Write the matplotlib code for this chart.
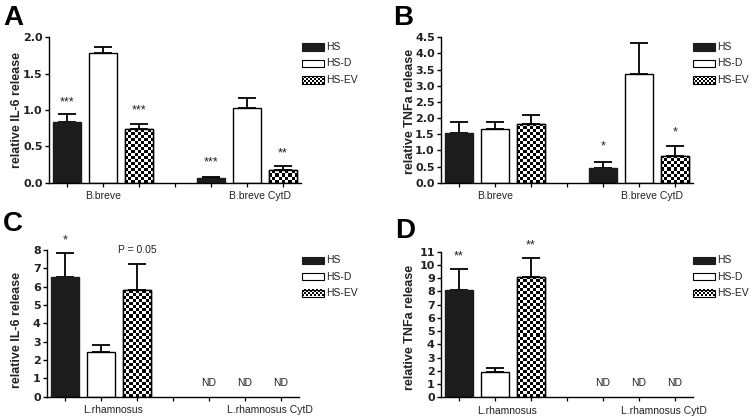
import numpy as np
import matplotlib
matplotlib.use("Agg")
import matplotlib.pyplot as plt
from matplotlib.patches import Rectangle

plt.rcParams['font.family'] = ['Liberation Sans', 'DejaVu Sans']

W, H = 755, 416

# ---------------- data ----------------
series = ['HS', 'HS-D', 'HS-EV']
groups_breve = ['B.breve', 'B.breve CytD']
groups_rham = ['L.rhamnosus', 'L.rhamnosus CytD']

# Panel A: relative IL-6 release (B.breve)
a_hs = [0.835, 0.06]
a_hs_err = [0.105, 0.023]
a_hsd = [1.79, 1.03]
a_hsd_err = [0.08, 0.13]
a_hsev = [0.734, 0.17]
a_hsev_err = [0.076, 0.064]

# Panel B: relative TNFa release (B.breve)
b_hs = [1.55, 0.44]
b_hs_err = [0.33, 0.21]
b_hsd = [1.65, 3.35]
b_hsd_err = [0.22, 0.96]
b_hsev = [1.83, 0.84]
b_hsev_err = [0.26, 0.30]

# Panel C: relative IL-6 release (L.rhamnosus); CytD not detected
c_hs = [6.51, np.nan]
c_hs_err = [1.34, np.nan]
c_hsd = [2.42, np.nan]
c_hsd_err = [0.42, np.nan]
c_hsev = [5.80, np.nan]
c_hsev_err = [1.44, np.nan]

# Panel D: relative TNFa release (L.rhamnosus); CytD not detected
d_hs = [8.14, np.nan]
d_hs_err = [1.53, np.nan]
d_hsd = [1.91, np.nan]
d_hsd_err = [0.28, np.nan]
d_hsev = [9.09, np.nan]
d_hsev_err = [1.41, np.nan]

# annotations: (text, group index, series index, y value)
a_notes = [('***', 0, 0, 1.16), ('***', 0, 2, 1.05), ('***', 1, 0, 0.34), ('**', 1, 2, 0.46)]
b_notes = [('*', 1, 0, 1.27), ('*', 1, 2, 1.68)]
c_notes = [('*', 0, 0, 8.78)]
c_texts = [('P = 0.05', 0, 2, 8.04), ('ND', 1, 0, 0.78), ('ND', 1, 1, 0.78), ('ND', 1, 2, 0.78)]
d_notes = [('**', 0, 0, 11.0), ('**', 0, 2, 11.8)]
d_texts = [('ND', 1, 0, 1.13), ('ND', 1, 1, 1.13), ('ND', 1, 2, 1.13)]

# ---------------- figure ----------------
fig = plt.figure(figsize=(W / 100, H / 100), dpi=100)

def px_axes(left, right, top, bottom):
    return fig.add_axes([left / W, 1 - bottom / H, (right - left) / W, (bottom - top) / H])

BW = 0.78
CELL = 3.0

def checker(nr, nc):
    i, j = np.indices((nr, nc))
    return ((i + j) % 2).astype(float)

def add_checker(ax, rect):
    x0, y0 = rect.get_x(), rect.get_y()
    w, h = rect.get_width(), rect.get_height()
    p0 = ax.transData.transform((x0, y0))
    p1 = ax.transData.transform((x0 + w, y0 + h))
    nc = max(1, int(round(abs(p1[0] - p0[0]) / CELL)))
    nr = max(1, int(round(abs(p1[1] - p0[1]) / CELL)))
    im = ax.imshow(checker(nr, nc), cmap='gray', vmin=0, vmax=1, origin='lower',
                   extent=[x0, x0 + w, y0, y0 + h], interpolation='nearest',
                   aspect='auto', zorder=2.2)
    im.set_clip_path(rect)

def panel(ax, groups, hs, hs_e, hsd, hsd_e, hsev, hsev_e, ymax, ystep, ylabel,
          ylab_px, notes, texts=()):
    ax.set_xlim(0.5, 7.5)
    ax.set_ylim(0, ymax)
    pos = [np.array([1, 5]), np.array([2, 6]), np.array([3, 7])]
    vals = [hs, hsd, hsev]
    errs = [hs_e, hsd_e, hsev_e]
    styles = [dict(color='#1c1c1c', edgecolor='#1c1c1c'),
              dict(color='white', edgecolor='black'),
              dict(color='white', edgecolor='black')]
    for k in range(3):
        v = np.array(vals[k], dtype=float)
        e = np.array(errs[k], dtype=float)
        ok = ~np.isnan(v)
        bars = ax.bar(pos[k][ok], v[ok], width=BW, linewidth=1.0, zorder=2, **styles[k])
        if k == 2:
            for r in bars:
                add_checker(ax, r)
            ax.bar(pos[k][ok], v[ok], width=BW, fill=False, edgecolor='black',
                   linewidth=1.0, zorder=2.5)
        ax.errorbar(pos[k][ok], v[ok], yerr=[np.zeros(ok.sum()), e[ok]], fmt='none',
                    ecolor='black', elinewidth=1.3, capsize=6.5, capthick=1.3, zorder=1.5)
    ax.set_ylim(0, ymax)
    ax.set_xlim(0.5, 7.5)
    for s in ('top', 'right'):
        ax.spines[s].set_visible(False)
    for s in ('left', 'bottom'):
        ax.spines[s].set_linewidth(1.0)
    ticks = np.arange(0, ymax + 1e-9, ystep)
    ax.set_yticks(ticks)
    if ystep < 1:
        ax.set_yticklabels(['%.1f' % t for t in ticks])
    else:
        ax.set_yticklabels(['%d' % t for t in ticks])
    for lab in ax.get_yticklabels():
        lab.set_fontweight('bold')
        lab.set_fontsize(8)
        lab.set_family('DejaVu Sans')
        lab.set_color('#222222')
    ax.tick_params(axis='y', length=3, width=1.0, pad=1.5)
    ax.set_xticks([1, 2, 3, 4, 5, 6, 7])
    ax.set_xticklabels([])
    ax.tick_params(axis='x', length=3, width=0.9)
    for gi, g in enumerate(groups):
        ax.annotate(g, (1.5 + 4 * gi, 0), xycoords=('data', 'axes fraction'),
                    xytext=(0, -6), textcoords='offset points', ha='left', va='top',
                    fontsize=7.5, color='#222222')
    for txt, gi, si, y in notes:
        ax.annotate(txt, (pos[si][gi], y), xytext=(0, -0.6 * 9), textcoords='offset points',
                    ha='center', va='baseline', fontsize=9, annotation_clip=False, color='#222222')
    for txt, gi, si, y in texts:
        ax.annotate(txt, (pos[si][gi], y), xytext=(0, -0.36 * 7.5), textcoords='offset points',
                    ha='center', va='baseline', fontsize=7.5, annotation_clip=False, color='#222222')
    fig.text(ylab_px[0] / W, 1 - ylab_px[1] / H, ylabel, rotation=90, ha='center',
             va='center', fontsize=9, fontweight='bold', color='#222222')

axA = px_axes(49, 301, 37.3, 182.7)
panel(axA, groups_breve, a_hs, a_hs_err, a_hsd, a_hsd_err, a_hsev, a_hsev_err,
      2.0, 0.5, 'relative IL-6 release', (17, 110), a_notes)

axB = px_axes(441, 693, 37.3, 182.7)
panel(axB, groups_breve, b_hs, b_hs_err, b_hsd, b_hsd_err, b_hsev, b_hsev_err,
      4.5, 0.5, 'relative TNFa release', (410, 111), b_notes)

axC = px_axes(47, 299, 250, 396.7)
panel(axC, groups_rham, c_hs, c_hs_err, c_hsd, c_hsd_err, c_hsev, c_hsev_err,
      8, 1, 'relative IL-6 release', (17, 330), c_notes, c_texts)

axD = px_axes(441, 693, 251.7, 397.3)
panel(axD, groups_rham, d_hs, d_hs_err, d_hsd, d_hsd_err, d_hsev, d_hsev_err,
      11, 1, 'relative TNFa release', (410, 327.5), d_notes, d_texts)

# panel letters
for letter, x, yb in [('A', 3, 25), ('B', 393, 25), ('C', 3, 231), ('D', 395, 238)]:
    fig.text(x / W, 1 - yb / H, letter, ha='left', va='baseline', fontsize=20,
             fontweight='bold')

# legends (pixel positions)
def legend(box_left, centers):
    bw, bh = 22, 7
    for k, (name, cy) in enumerate(zip(series, centers)):
        x0 = box_left
        y0 = H - cy - bh / 2
        if k == 0:
            fig.add_artist(Rectangle((x0 / W, y0 / H), bw / W, bh / H, transform=fig.transFigure,
                                     facecolor='#1c1c1c', edgecolor='#1c1c1c', linewidth=0.8))
        elif k == 1:
            fig.add_artist(Rectangle((x0 / W, y0 / H), bw / W, bh / H, transform=fig.transFigure,
                                     facecolor='white', edgecolor='black', linewidth=0.8))
        else:
            arr = np.kron(checker(4, 11), np.ones((2, 2)))[:bh, :bw]
            fig.figimage(arr, xo=int(x0), yo=int(round(y0)), cmap='gray', vmin=0, vmax=1,
                         origin='lower', zorder=3)
            fig.add_artist(Rectangle((x0 / W, y0 / H), bw / W, bh / H, transform=fig.transFigure,
                                     fill=False, edgecolor='black', linewidth=0.8, zorder=4))
        fig.text((x0 + bw + 2.5) / W, 1 - cy / H, name, ha='left', va='center',
                 fontsize=7.5, color='#222222')

legend(302, [47, 63.5, 80])
legend(693, [47, 63.5, 80])
legend(302, [260, 276.5, 293])
legend(693, [260, 276.5, 293])

fig.savefig('out.png', dpi=100)
